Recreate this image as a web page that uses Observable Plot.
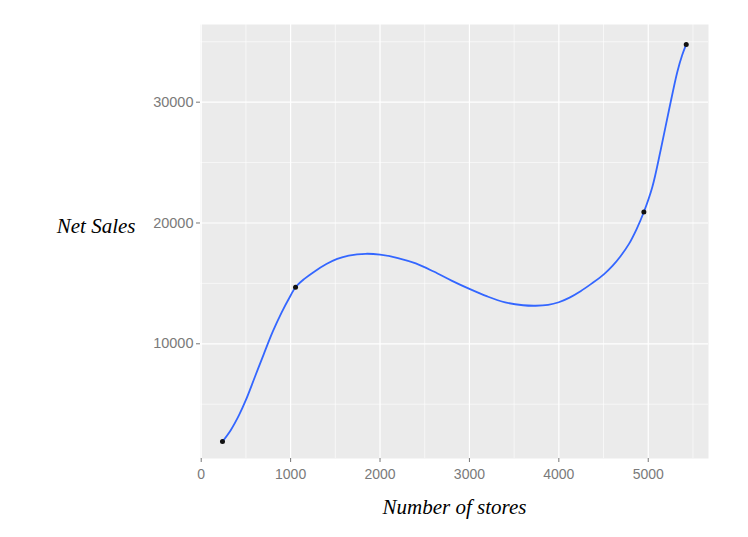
<!DOCTYPE html>
<html>
<head>
<meta charset="utf-8">
<script src="https://cdn.jsdelivr.net/npm/d3@7"></script>
<script src="https://cdn.jsdelivr.net/npm/@observablehq/plot@0.6"></script>
<style>
  html, body { margin: 0; padding: 0; background: #fff; }
  #chart svg { display: block; }
</style>
</head>
<body>
<div id="chart"></div>
<script>
// Observed data points
const storeCounts = [238, 1055, 4951, 5425];
const netSales = [1912, 14685, 20910, 34780];

// Fitted smooth curve
const curveStores = [238, 330, 420, 500, 600, 700, 800, 900, 1000, 1055, 1150, 1260, 1400, 1521, 1650, 1838, 2000, 2200, 2400, 2600, 2800, 3000, 3200, 3400, 3600, 3740, 3880, 4000, 4120, 4243, 4370, 4503, 4600, 4690, 4783, 4870, 4951, 5045, 5138, 5231, 5325, 5380, 5425];
const curveSales  = [1912, 2850, 4050, 5350, 7250, 9150, 11000, 12600, 14000, 14685, 15350, 15950, 16600, 17030, 17300, 17450, 17380, 17100, 16650, 15980, 15230, 14540, 13920, 13430, 13190, 13150, 13220, 13440, 13820, 14350, 15000, 15750, 16450, 17250, 18250, 19500, 20910, 22960, 26000, 29310, 32500, 33900, 34780];

// Axis ticks
const xMajor = [0, 1000, 2000, 3000, 4000, 5000];
const xMinor = [500, 1500, 2500, 3500, 4500, 5500];
const yMajor = [10000, 20000, 30000];
const yMinor = [5000, 15000, 25000, 35000];

const points = storeCounts.map((x, i) => ({x, y: netSales[i]}));
const curve = curveStores.map((x, i) => ({x, y: curveSales[i]}));

const serif = "'Liberation Serif', 'Times New Roman', serif";

const chart = Plot.plot({
  width: 748,
  height: 537,
  marginLeft: 200,
  marginRight: 40,
  marginTop: 24,
  marginBottom: 79,
  style: {background: "#fff", fontFamily: "'Liberation Sans', Arial, sans-serif"},
  x: {domain: [-8, 5674], label: null},
  y: {domain: [505, 36430], label: null},
  marks: [
    Plot.frame({fill: "#EBEBEB", stroke: null}),
    Plot.ruleX(xMinor, {stroke: "#fff", strokeWidth: 0.6}),
    Plot.ruleY(yMinor, {stroke: "#fff", strokeWidth: 0.6}),
    Plot.ruleX(xMajor, {stroke: "#fff", strokeWidth: 1.2}),
    Plot.ruleY(yMajor, {stroke: "#fff", strokeWidth: 1.2}),
    Plot.axisX({ticks: xMajor, tickSize: 4, tickPadding: 7, stroke: "#777", fill: "#7a7a7a", fontSize: 14, tickFormat: d => String(d), label: null}),
    Plot.axisY({ticks: yMajor, tickSize: 4, tickPadding: 3, stroke: "#777", fill: "#7a7a7a", fontSize: 14.5, tickFormat: d => String(d), label: null}),
    Plot.line(curve, {x: "x", y: "y", curve: "catmull-rom", stroke: "#3366FF", strokeWidth: 1.8}),
    Plot.dot(points, {x: "x", y: "y", r: 2.5, fill: "#111", stroke: null}),
    Plot.text(["Net Sales"], {frameAnchor: "left", dx: -65, dy: -15, textAnchor: "end", fontSize: 21, fontStyle: "italic", fontFamily: serif, fill: "#000"}),
    Plot.text(["Number of stores"], {frameAnchor: "bottom", dy: 55, dx: 0, fontSize: 21, fontStyle: "italic", fontFamily: serif, fill: "#000"})
  ]
});
document.getElementById("chart").append(chart);
</script>
</body>
</html>
